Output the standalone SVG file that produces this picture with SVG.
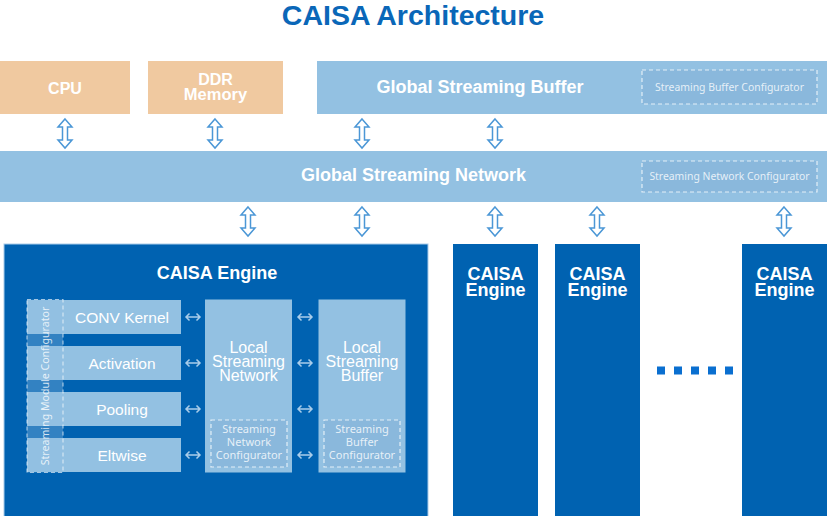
<svg xmlns="http://www.w3.org/2000/svg" width="827" height="516" viewBox="0 0 827 516">
<style>
.t{font-family:"Liberation Sans",Arial,sans-serif;fill:#fff;text-anchor:middle}
.b{font-weight:bold}
.cfg{font-family:"Noto Sans","Open Sans",sans-serif;fill:#fff;fill-opacity:0.8;text-anchor:middle}
.orange{fill:#f0c9a0}
.light{fill:#93c1e2}
.dark{fill:#0062b1}
.dash{fill:#8ab8dc;stroke:#fff;stroke-opacity:0.75;stroke-width:1.2;stroke-dasharray:4 3}
.varrow{fill:#fff;stroke:#4b97d6;stroke-width:1.5;stroke-linejoin:miter}
.harrow{fill:none;stroke:#a9cdea;stroke-width:1.5}
</style>
<defs>
<path id="va" d="M0,0 L7,8 L2.5,8 L2.5,21 L7,21 L0,29 L-7,21 L-2.5,21 L-2.5,8 L-7,8 Z"/>
<path id="ha" d="M1,0 H15 M4.5,-3.5 L1,0 L4.5,3.5 M11.5,-3.5 L15,0 L11.5,3.5"/>
</defs>
<rect width="827" height="516" fill="#fff"/>
<text x="413" y="25" font-family="Liberation Sans,Arial,sans-serif" font-weight="bold" font-size="28.5" fill="#0a67b8" text-anchor="middle">CAISA Architecture</text>

<g id="cpu"><rect class="orange" x="0" y="61" width="130" height="53"/><text class="t b" x="65" y="93.5" font-size="16">CPU</text></g>
<g id="ddr"><rect class="orange" x="148" y="61" width="135" height="53"/><text class="t b" x="215.5" y="84.5" font-size="16">DDR</text><text class="t b" x="215.5" y="99.5" font-size="16.5">Memory</text></g>
<g id="gsb"><rect class="light" x="317" y="61" width="510" height="53"/><text class="t b" x="480" y="92.5" font-size="18">Global Streaming Buffer</text>
<rect class="dash" x="642" y="70" width="175" height="34"/><text class="cfg" x="729.5" y="90.5" font-size="10.4">Streaming Buffer Configurator</text></g>
<g id="gsn"><rect class="light" x="0" y="151" width="827" height="51"/><text class="t b" x="413.5" y="181" font-size="18">Global Streaming Network</text>
<rect class="dash" x="642" y="161" width="175" height="31"/><text class="cfg" x="729.5" y="179.5" font-size="10.4">Streaming Network Configurator</text></g>

<g id="engine-main">
<rect class="dark" x="4" y="244" width="424" height="275" stroke="#a9cbe9" stroke-width="1"/>
<text class="t b" x="217" y="279" font-size="18">CAISA Engine</text>
<g id="conv"><rect class="light" x="27" y="300" width="154" height="34"/><text class="t" x="122" y="322.5" font-size="15.5">CONV Kernel</text></g>
<g id="activation"><rect class="light" x="27" y="346" width="154" height="34"/><text class="t" x="122" y="368.5" font-size="15.5">Activation</text></g>
<g id="pooling"><rect class="light" x="27" y="392" width="154" height="34"/><text class="t" x="122" y="414.5" font-size="15.5">Pooling</text></g>
<g id="eltwise"><rect class="light" x="27" y="438" width="154" height="34"/><text class="t" x="122" y="460.5" font-size="15.5">Eltwise</text></g>
<g id="smc"><rect x="27" y="299.5" width="36" height="173" fill="#93c1e2" fill-opacity="0.35" stroke="#fff" stroke-opacity="0.6" stroke-width="1.2" stroke-dasharray="4 3"/>
<text class="cfg" x="0" y="0" font-size="10.6" transform="translate(48.5,386) rotate(-90)">Streaming Module Configurator</text></g>
<g id="lsn"><rect class="light" x="205" y="299.5" width="87" height="173"/>
<text class="t" x="248.5" y="353" font-size="16">Local</text><text class="t" x="248.5" y="367" font-size="16">Streaming</text><text class="t" x="248.5" y="381" font-size="16">Network</text>
<rect class="dash" x="211" y="420" width="76" height="47"/>
<text class="cfg" x="249" y="433" font-size="11">Streaming</text><text class="cfg" x="249" y="446" font-size="11">Network</text><text class="cfg" x="249" y="459" font-size="11">Configurator</text></g>
<g id="lsb"><rect class="light" x="318.5" y="299.5" width="87" height="173"/>
<text class="t" x="362" y="353" font-size="16">Local</text><text class="t" x="362" y="367" font-size="16">Streaming</text><text class="t" x="362" y="381" font-size="16">Buffer</text>
<rect class="dash" x="324" y="420" width="76" height="47"/>
<text class="cfg" x="362" y="433" font-size="11">Streaming</text><text class="cfg" x="362" y="446" font-size="11">Buffer</text><text class="cfg" x="362" y="459" font-size="11">Configurator</text></g>
</g>

<g id="engine-2"><rect class="dark" x="453" y="244" width="85" height="275"/><text class="t b" x="495.5" y="279.5" font-size="18">CAISA</text><text class="t b" x="495.5" y="296" font-size="18">Engine</text></g>
<g id="engine-3"><rect class="dark" x="555" y="244" width="85" height="275"/><text class="t b" x="597.5" y="279.5" font-size="18">CAISA</text><text class="t b" x="597.5" y="296" font-size="18">Engine</text></g>
<g id="engine-n"><rect class="dark" x="742" y="244" width="90" height="275"/><text class="t b" x="784.5" y="279.5" font-size="18">CAISA</text><text class="t b" x="784.5" y="296" font-size="18">Engine</text></g>
<g id="ellipsis" fill="#0a6fd0">
<rect x="657" y="366.5" width="8" height="8"/><rect x="674" y="366.5" width="8" height="8"/><rect x="691" y="366.5" width="8" height="8"/><rect x="708" y="366.5" width="8" height="8"/><rect x="725" y="366.5" width="8" height="8"/>
</g>

<g id="connectors">
<use href="#va" class="varrow" x="65" y="119"/>
<use href="#va" class="varrow" x="215" y="119"/>
<use href="#va" class="varrow" x="362" y="119"/>
<use href="#va" class="varrow" x="495" y="119"/>
<use href="#va" class="varrow" x="248" y="207"/>
<use href="#va" class="varrow" x="362" y="207"/>
<use href="#va" class="varrow" x="495" y="207"/>
<use href="#va" class="varrow" x="597" y="207"/>
<use href="#va" class="varrow" x="784" y="207"/>
<use href="#ha" class="harrow" x="185" y="317"/>
<use href="#ha" class="harrow" x="185" y="363"/>
<use href="#ha" class="harrow" x="185" y="409"/>
<use href="#ha" class="harrow" x="185" y="455"/>
<use href="#ha" class="harrow" x="297" y="317"/>
<use href="#ha" class="harrow" x="297" y="363"/>
<use href="#ha" class="harrow" x="297" y="409"/>
<use href="#ha" class="harrow" x="297" y="455"/>
</g>
</svg>
